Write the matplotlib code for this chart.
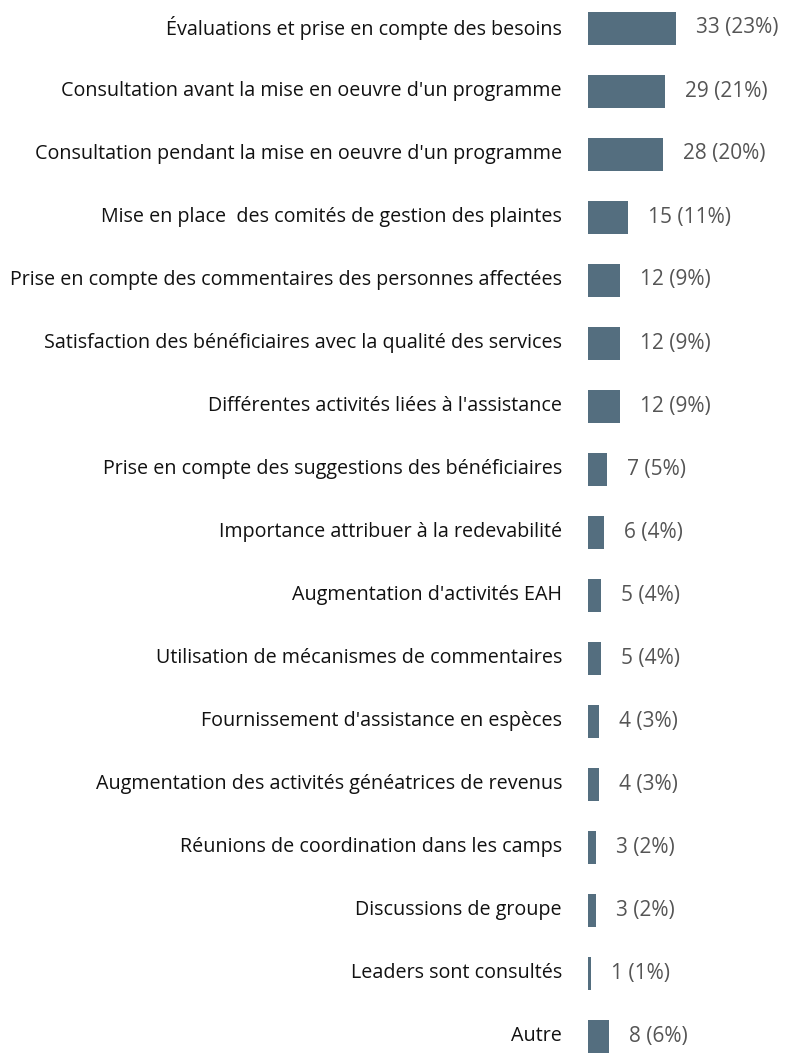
import matplotlib.pyplot as plt

# Données
categories = [
    "Évaluations et prise en compte des besoins",
    "Consultation avant la mise en oeuvre d'un programme",
    "Consultation pendant la mise en oeuvre d'un programme",
    "Mise en place  des comités de gestion des plaintes",
    "Prise en compte des commentaires des personnes affectées",
    "Satisfaction des bénéficiaires avec la qualité des services",
    "Différentes activités liées à l'assistance",
    "Prise en compte des suggestions des bénéficiaires",
    "Importance attribuer à la redevabilité",
    "Augmentation d'activités EAH",
    "Utilisation de mécanismes de commentaires",
    "Fournissement d'assistance en espèces",
    "Augmentation des activités généatrices de revenus",
    "Réunions de coordination dans les camps",
    "Discussions de groupe",
    "Leaders sont consultés",
    "Autre",
]
valeurs = [33, 29, 28, 15, 12, 12, 12, 7, 6, 5, 5, 4, 4, 3, 3, 1, 8]
pourcents = [23, 21, 20, 11, 9, 9, 9, 5, 4, 4, 4, 3, 3, 2, 2, 1, 6]

W, H = 790, 1054
fig = plt.figure(figsize=(W / 100, H / 100), dpi=100)
plt.rcParams['font.family'] = ['Open Sans', 'DejaVu Sans']

x0 = 588
ax = fig.add_axes([x0 / W, 0, 1 - x0 / W, 1])
px_unit = 88 / 33
ax.set_xlim(0, (W - x0) / px_unit)
row = 63
ax.set_ylim(16 + (H - 1036) / row, -28 / row)

couleur = "#546e7f"
pos = list(range(len(categories)))
ax.barh(pos, valeurs, height=33 / row, color=couleur)

for i, (c, v, p) in enumerate(zip(categories, valeurs, pourcents)):
    ax.text(-26 / px_unit, i, c, ha="right", va="center", fontsize=14.2,
            color="#111111", clip_on=False)
    ax.text(v + 20 / px_unit, i, f"{v} ({p}%)", ha="left", va="center",
            fontsize=15, color="#555555")

ax.axis("off")
fig.savefig("out.png", dpi=100)
